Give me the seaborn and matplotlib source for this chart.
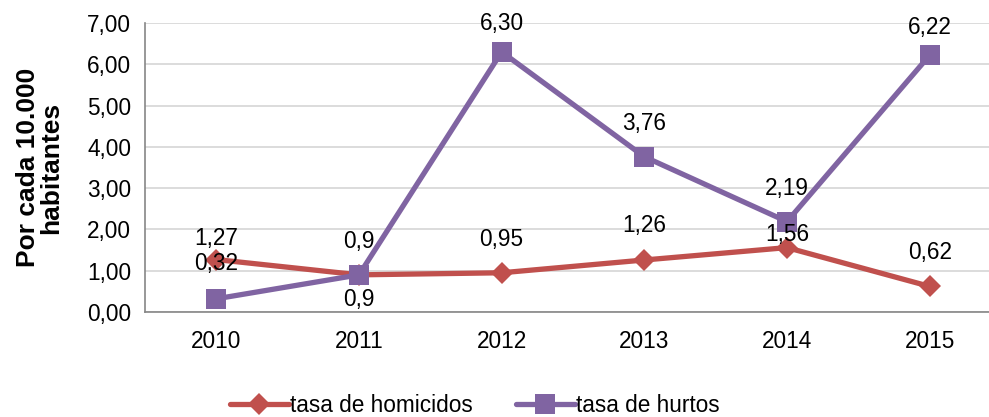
import pandas as pd
import matplotlib
matplotlib.use("Agg")
import matplotlib.pyplot as plt
import seaborn as sns
from matplotlib.ticker import FuncFormatter, FixedLocator

# -------------------------------
# Data
# -------------------------------
years = ["2010", "2011", "2012", "2013", "2014", "2015"]
homicidios = [1.27, 0.90, 0.95, 1.26, 1.56, 0.62]
hurtos = [0.32, 0.90, 6.30, 3.76, 2.19, 6.22]
homicidios_labels = ["1,27", "0,9", "0,95", "1,26", "1,56", "0,62"]
hurtos_labels = ["0,32", "0,9", "6,30", "3,76", "2,19", "6,22"]
series_names = ["tasa de homicidos", "tasa de hurtos"]

df = pd.DataFrame({
    "year": years * 2,
    "value": homicidios + hurtos,
    "serie": [series_names[0]] * len(years) + [series_names[1]] * len(years),
})

# -------------------------------
# Style
# -------------------------------
sns.set_style("white")
plt.rcParams["font.family"] = ["Liberation Sans", "DejaVu Sans"]
plt.rcParams["text.color"] = "black"
plt.rcParams["xtick.labelcolor"] = "black"
plt.rcParams["ytick.labelcolor"] = "black"
plt.rcParams["axes.labelcolor"] = "black"

red = "#C0504D"
purple = "#8064A2"
fs = 16.3

fig = plt.figure(figsize=(9.89, 4.17), dpi=100)
ax = fig.add_axes([145 / 989, 1 - 312 / 417, (1001 - 145) / 989, (312 - 23) / 417])

sns.lineplot(
    data=df, x="year", y="value", hue="serie", style="serie",
    palette=[red, purple], markers=["D", "s"], dashes=False,
    linewidth=3.8, markersize=11, markeredgewidth=0, ax=ax, sort=False,
)
# square a bit bigger
for line in ax.get_lines():
    if line.get_marker() == "s":
        line.set_markersize(14)

ax.set_xlim(-0.5, 5.5)
ax.set_ylim(0, 7)
ax.set_yticks(range(0, 8))
ax.yaxis.set_major_formatter(FuncFormatter(lambda v, p: f"{v:.2f}".replace(".", ",")))
ax.grid(axis="y", color="#D9D9D9", linewidth=1.3)
ax.set_axisbelow(True)

# category boundaries as ticks
ax.xaxis.set_minor_locator(FixedLocator([i - 0.5 for i in range(len(years) + 1)]))
ax.tick_params(axis="x", which="major", length=0, labelsize=fs, pad=13)
ax.tick_params(axis="x", which="minor", length=6, color="#868686", width=1.2, direction="out")
ax.tick_params(axis="y", length=6, color="#868686", width=1.2, direction="out", labelsize=fs, pad=4)

for s in ["top", "right"]:
    ax.spines[s].set_visible(False)
for s in ["left", "bottom"]:
    ax.spines[s].set_color("#868686")
    ax.spines[s].set_linewidth(1.2)

ax.set_xlabel("")
ax.set_ylabel("Por cada 10.000\nhabitantes", fontsize=19, fontweight="bold", linespacing=0.95)
ax.yaxis.set_label_coords(-0.096, 0.5)

# -------------------------------
# Data labels
# -------------------------------
red_offsets = [21, 33, 33, 34, 13, 34]
purple_offsets = [35, -25, 28, 33, 33, 28]
for i in range(len(years)):
    ax.annotate(homicidios_labels[i], (i, homicidios[i]), xytext=(0, red_offsets[i]),
                textcoords="offset pixels", ha="center", va="center", fontsize=fs)
    ax.annotate(hurtos_labels[i], (i, hurtos[i]), xytext=(0, purple_offsets[i]),
                textcoords="offset pixels", ha="center", va="center", fontsize=fs)

# -------------------------------
# Legend
# -------------------------------
handles, labels = ax.get_legend_handles_labels()
ax.legend_.remove()
fig.legend(handles, labels, loc="center", bbox_to_anchor=(0.48, 0.028), ncol=2,
           frameon=False, fontsize=fs, handlelength=2.6, handletextpad=0.05,
           columnspacing=1.9)

fig.savefig("out.png", dpi=100)
